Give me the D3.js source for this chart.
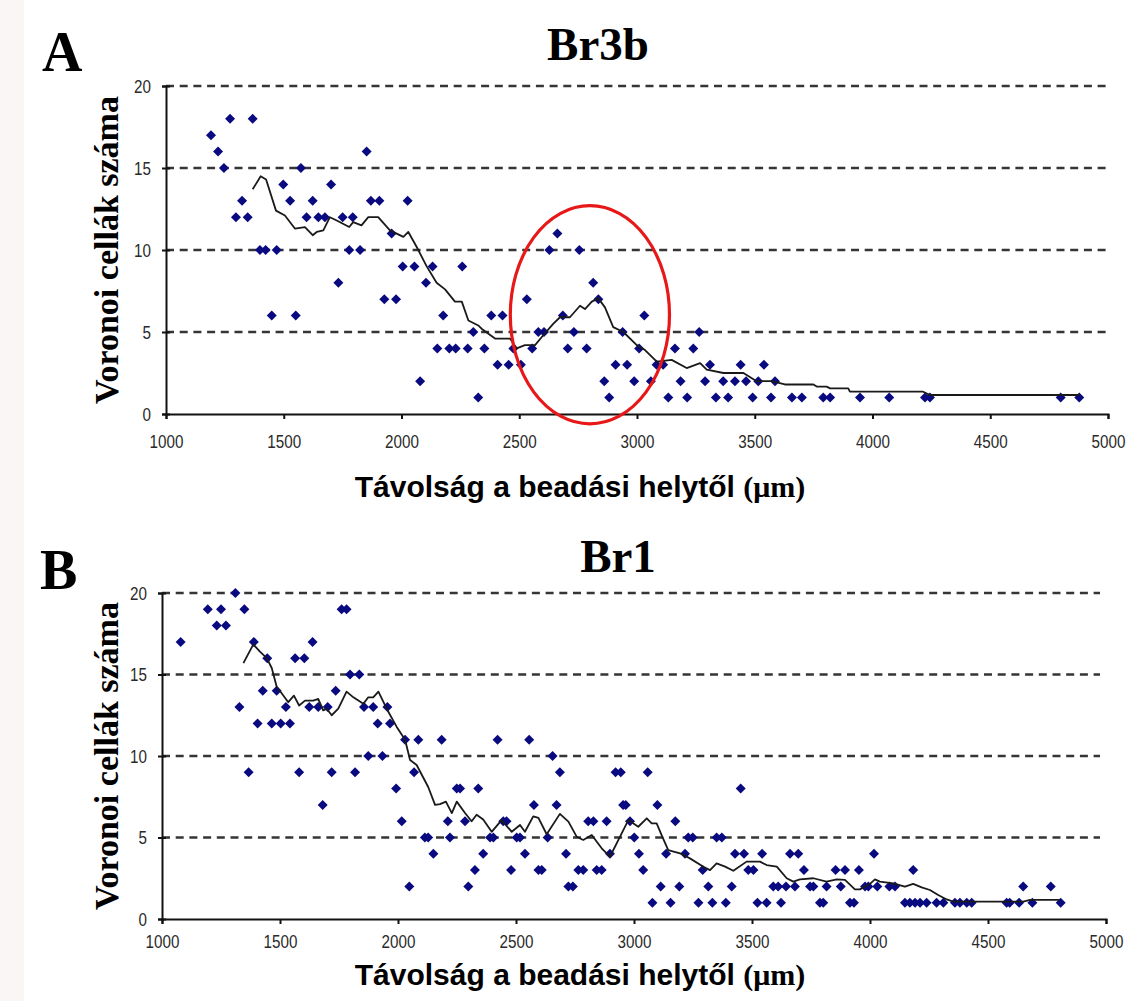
<!DOCTYPE html>
<html>
<head>
<meta charset="utf-8">
<script src="https://cdnjs.cloudflare.com/ajax/libs/d3/7.8.5/d3.min.js"></script>
<style>
  html, body { margin: 0; padding: 0; background: #fff; }
  svg { display: block; }
</style>
</head>
<body>
<svg id="chart" width="1132" height="1001"></svg>
<script>
// Axis ticks shared by both panels
const xTickValues = [1000, 1500, 2000, 2500, 3000, 3500, 4000, 4500, 5000];
const yTickValues = [0, 5, 10, 15, 20];

// Br3b: individual measurements (distance in µm, number of Voronoi cells)
const br3bDistance = [1191,1221,1246,1272,1368,1297,1323,1347,1399,1423,1470,1449,1498,1527,1551,1573,1597,1623,1647,1675,
  1701,1732,1750,1793,1778,1824,1852,1870,1906,1927,1977,1958,2005,2026,2055,2079,2104,2132,2177,2152,
  2203,2230,2258,2281,2305,2326,2352,2381,2429,2408,2455,2475,2507,2532,2555,2581,2605,2628,2662,2685,
  2706,2732,2755,2786,2814,2836,2861,2882,2909,2939,2958,2988,3009,3031,3059,3083,3111,3133,3161,3185,
  3213,3239,3264,3289,3310,3335,3366,3387,3416,3440,3463,3491,3515,3539,3569,3586,3658,3700,3791,3820,
  3947,4071,4223,4244,4799,4878];
const br3bCells = [17,16,15,18,18,12,13,12,10,10,10,6,14,13,6,15,12,13,12,12,
  14,8,12,12,10,10,16,13,13,7,7,11,9,13,9,2,8,9,6,4,
  4,4,9,4,5,1,4,6,6,3,3,4,3,7,4,5,5,10,11,6,
  4,5,10,4,8,7,2,1,3,5,3,2,4,6,2,3,3,1,4,2,
  1,4,5,2,3,1,2,1,2,3,2,1,2,3,1,2,1,1,1,1,
  1,1,1,1,1,1];

// Br3b: moving average
const br3bAvgDistance = [1368,1402,1425,1467,1505,1548,1590,1623,1640,1668,1696,1725,1778,1795,1830,1859,1901,1951,2008,2029,
  2064,2107,2149,2185,2227,2256,2284,2326,2340,2397,2461,2489,2524,2567,2602,2644,2673,2715,2758,2779,
  2808,2836,2864,2899,2942,2999,3034,3084,3147,3211,3268,3296,3367,3452,3508,3572,3628,3749,3763,3805,
  3820,3897,3904,4215,4244,4881];
const br3bAvgCells = [13.7,14.5,14.3,12.4,12.1,11.3,11.4,10.9,11.1,11.2,12.0,11.8,11.4,11.7,11.5,12.0,12.0,11.2,10.8,11.1,
  10.2,9.0,8.0,7.6,6.85,6.85,5.7,5.4,5.2,4.6,4.6,4.0,4.2,4.2,4.8,5.5,5.9,5.9,6.6,6.4,
  6.85,7.05,6.5,5.3,5.0,4.2,3.9,3.2,3.3,2.8,3.1,2.7,2.5,2.5,2.0,2.0,1.8,1.8,1.67,1.67,
  1.56,1.56,1.36,1.36,1.16,1.16];

// Br1: individual measurements
const br1Distance = [1079,1194,1250,1232,1271,1311,1349,1328,1367,1389,1446,1427,1405,1465,1503,1542,1486,1525,1564,1603,
  1581,1638,1624,1662,1702,1681,1719,1736,1761,1782,1797,1836,1818,1856,1895,1874,1914,1934,1955,1966,
  1992,2016,2030,2048,2068,2086,2114,2128,2150,2185,2211,2220,2249,2263,2284,2298,2326,2340,2361,2390,
  2404,2422,2446,2460,2479,2503,2517,2538,2556,2576,2595,2609,2634,2655,2672,2686,2712,2722,2741,2764,
  2785,2806,2828,2842,2863,2884,2898,2922,2944,2954,2965,2983,3001,3021,3039,3058,3078,3099,3113,3136,
  3155,3175,3192,3216,3230,3249,3273,3291,3315,3332,3350,3372,3389,3414,3428,3466,3452,3484,3506,3523,
  3562,3543,3590,3611,3623,3644,3661,3696,3682,3720,3746,3760,3788,3802,3816,3854,3894,3876,3915,3932,
  3953,3979,3993,4017,4031,4082,4106,4148,4169,4183,4191,4212,4240,4282,4311,4360,4381,4410,4431,4579,
  4592,4632,4649,4688,4766,4808];
const br1Cells = [17,19,19,18,18,20,19,13,9,17,16,14,12,12,12,12,14,13,16,16,
  9,17,13,13,13,7,9,14,19,19,15,15,9,13,13,10,12,10,13,12,
  8,6,11,2,9,11,5,5,4,11,6,5,8,8,6,2,3,8,4,5,
  5,11,6,6,3,5,5,4,11,7,3,3,5,10,7,9,4,2,2,3,
  3,6,6,3,3,6,4,9,9,7,7,6,5,4,3,9,1,7,2,4,
  1,6,2,4,5,5,1,3,2,1,5,5,1,2,4,4,8,3,3,1,
  1,4,2,2,1,2,4,4,2,3,2,2,1,1,2,3,3,2,1,1,
  3,2,2,4,2,2,2,1,1,3,1,1,1,1,1,1,1,1,1,1,
  1,1,2,1,2,1];

// Br1: moving average
const br1AvgDistance = [1345,1387,1415,1444,1465,1486,1507,1535,1559,1581,1606,1641,1662,1683,1698,1719,1747,1782,1811,1853,
  1874,1895,1917,1952,1994,2030,2051,2079,2128,2157,2178,2203,2228,2249,2284,2312,2333,2361,2397,2439,
  2482,2517,2538,2573,2595,2630,2686,2722,2757,2785,2821,2863,2898,2934,2976,3018,3054,3075,3096,3117,
  3145,3195,3237,3294,3322,3350,3386,3421,3477,3534,3562,3605,3647,3675,3703,3760,3816,3859,3894,3936,
  3957,4000,4021,4042,4099,4148,4183,4219,4254,4289,4325,4353,4649,4678,4805];
const br1AvgCells = [15.7,16.85,16.4,16.0,15.4,14.25,13.85,13.3,13.7,13.1,13.4,13.4,13.5,12.8,12.9,12.5,12.9,13.95,13.6,13.2,
  13.6,13.6,13.95,12.9,11.8,11.0,9.75,9.45,8.1,7.0,7.05,7.2,6.5,7.2,6.5,6.0,6.4,6.1,5.35,6.07,
  5.35,5.77,5.35,6.3,6.2,5.2,6.45,5.97,5.05,4.85,5.15,4.34,3.82,4.85,6.07,5.66,6.18,5.87,5.87,5.15,
  4.23,4.03,3.72,3.21,3.0,3.41,3.21,2.96,3.52,3.52,3.31,3.21,2.5,2.29,2.43,2.5,2.29,2.43,2.4,1.82,
  1.82,2.15,2.43,2.29,2.19,1.98,2.15,1.94,1.78,1.47,1.2,1.06,1.06,1.17,1.17];

const panelLetters = ["A", "B"];
const panelTitles = ["Br3b", "Br1"];
const yAxisTitle = "Voronoi cellák száma";
const xAxisTitle = "Távolság a beadási helytől ";
const xAxisUnit = "(\u03bcm)";

const svg = d3.select("#chart");

// faint tinted strip along the left margin
svg.append("rect")
  .attr("x", 0).attr("y", 0).attr("width", 24).attr("height", 1001)
  .attr("fill", "#faf6f6");

const panels = [
  {
    letter: panelLetters[0], title: panelTitles[0],
    xs: br3bDistance, ys: br3bCells, ax: br3bAvgDistance, ay: br3bAvgCells,
    xRange: [166, 1108], yRange: [414, 86],
    letterPos: [42, 71], titlePos: [598, 60],
    tickLabelDy: 34, xTitleY: 497, yTitleX: 118,
    gridEnd: 1107,
    highlight: { cx: 2800, cy: 6.05, rx: 338, ry: 6.65 }
  },
  {
    letter: panelLetters[1], title: panelTitles[1],
    xs: br1Distance, ys: br1Cells, ax: br1AvgDistance, ay: br1AvgCells,
    xRange: [162, 1106], yRange: [919, 593],
    letterPos: [40, 589], titlePos: [618, 572],
    tickLabelDy: 29, xTitleY: 985, yTitleX: 118,
    gridEnd: 1100,
    highlight: null
  }
];

const diamond = r => `M0,${-r}L${r},0L0,${r}L${-r},0Z`;

// narrow tick labels: squeeze the glyphs horizontally
function styleTickText(sel) {
  sel.attr("font-family", "'Liberation Sans', Arial, sans-serif")
    .attr("font-size", 19).attr("fill", "#2a2a2a")
    .each(function () {
      const w = this.getComputedTextLength();
      d3.select(this).attr("textLength", w * 0.8).attr("lengthAdjust", "spacingAndGlyphs");
    });
}

panels.forEach(p => {
  const x = d3.scaleLinear().domain([1000, 5000]).range(p.xRange);
  const y = d3.scaleLinear().domain([0, 20]).range(p.yRange);
  const g = svg.append("g");

  // dashed horizontal grid lines
  g.append("g")
    .selectAll("line")
    .data(yTickValues.filter(v => v > 0))
    .join("line")
    .attr("x1", x(1000)).attr("x2", p.gridEnd)
    .attr("y1", d => y(d)).attr("y2", d => y(d))
    .attr("stroke", "#353535")
    .attr("stroke-width", 2.6)
    .attr("stroke-dasharray", "8,5.7");

  // y axis
  const yAxis = g.append("g")
    .attr("transform", `translate(${x(1000)},0)`)
    .call(d3.axisLeft(y).tickValues(yTickValues).tickSize(4).tickPadding(11));
  yAxis.attr("font-family", null);
  yAxis.select(".domain").attr("stroke", "#111").attr("stroke-width", 2);
  yAxis.selectAll(".tick line").attr("stroke", "#111").attr("stroke-width", 2).attr("x2", 8).attr("x1", 0)
    .attr("transform", "translate(-4,0)");
  styleTickText(yAxis.selectAll(".tick text"));

  // x axis
  const xAxis = g.append("g")
    .attr("transform", `translate(0,${y(0)})`)
    .call(d3.axisBottom(x).tickValues(xTickValues).tickSize(5).tickPadding(0).tickFormat(d3.format("d")));
  xAxis.attr("font-family", null);
  xAxis.select(".domain").attr("stroke", "#111").attr("stroke-width", 2);
  xAxis.selectAll(".tick line").attr("stroke", "#111").attr("stroke-width", 2);
  xAxis.selectAll(".tick text").attr("dy", null).attr("y", p.tickLabelDy);
  styleTickText(xAxis.selectAll(".tick text"));

  // measurements
  g.append("g")
    .selectAll("path")
    .data(p.xs.map((d, i) => [d, p.ys[i]]))
    .join("path")
    .attr("d", diamond(5))
    .attr("transform", d => `translate(${x(d[0])},${y(d[1])})`)
    .attr("fill", "#0a0a80");

  // moving average
  g.append("path")
    .datum(p.ax.map((d, i) => [d, p.ay[i]]))
    .attr("fill", "none")
    .attr("stroke", "#1a1a1a")
    .attr("stroke-width", 1.8)
    .attr("stroke-linejoin", "round")
    .attr("d", d3.line().x(d => x(d[0])).y(d => y(d[1])));

  // highlighted region
  if (p.highlight) {
    const h = p.highlight;
    g.append("ellipse")
      .attr("cx", x(h.cx)).attr("cy", y(h.cy))
      .attr("rx", x(h.cx + h.rx) - x(h.cx))
      .attr("ry", y(0) - y(h.ry))
      .attr("fill", "none")
      .attr("stroke", "#e81818")
      .attr("stroke-width", 3.2);
  }

  // panel letter and title
  g.append("text")
    .attr("x", p.letterPos[0]).attr("y", p.letterPos[1])
    .attr("font-family", "'Liberation Serif', 'Times New Roman', serif")
    .attr("font-weight", "bold").attr("font-size", 56)
    .text(p.letter);
  g.append("text")
    .attr("x", p.titlePos[0]).attr("y", p.titlePos[1])
    .attr("text-anchor", "middle")
    .attr("font-family", "'Liberation Serif', 'Times New Roman', serif")
    .attr("font-weight", "bold").attr("font-size", 47)
    .text(p.title);

  // axis titles
  g.append("text")
    .attr("transform", `translate(${p.yTitleX},${(p.yRange[0] + p.yRange[1]) / 2}) rotate(-90)`)
    .attr("text-anchor", "middle")
    .attr("font-family", "'Liberation Serif', 'Times New Roman', serif")
    .attr("font-weight", "bold").attr("font-size", 34)
    .text(yAxisTitle);
  const xt = g.append("text")
    .attr("x", 580).attr("y", p.xTitleY)
    .attr("text-anchor", "middle")
    .attr("font-weight", "bold");
  xt.append("tspan")
    .attr("font-family", "'Liberation Sans', Arial, sans-serif")
    .attr("font-size", 30)
    .text(xAxisTitle);
  xt.append("tspan")
    .attr("font-family", "'Liberation Serif', 'Times New Roman', serif")
    .attr("font-size", 30)
    .text(xAxisUnit);
});
</script>
</body>
</html>
